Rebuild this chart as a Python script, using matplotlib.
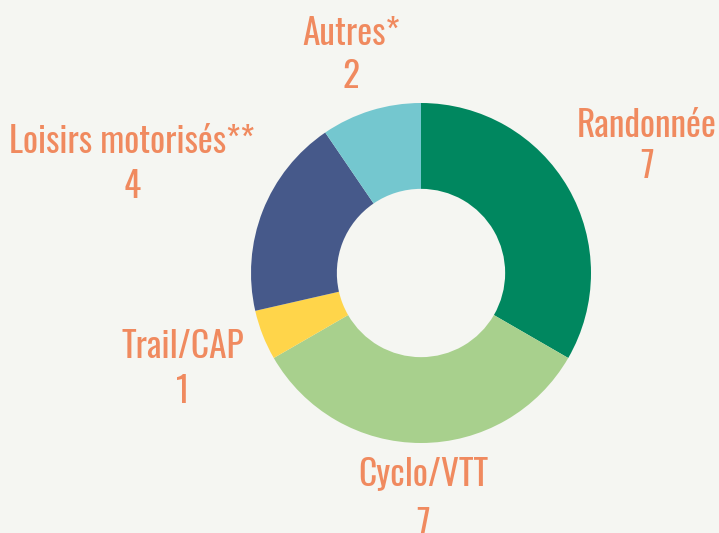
import matplotlib
matplotlib.use("Agg")
import matplotlib.pyplot as plt
from matplotlib import font_manager

categories = ["Randonnée", "Cyclo/VTT", "Trail/CAP", "Loisirs motorisés**", "Autres*"]
values = [7, 7, 1, 4, 2]
colors = ["#00875f", "#a8d08d", "#ffd54a", "#46598a", "#74c7cf"]

names = {f.name for f in font_manager.fontManager.ttflist}
fam = None
for cand in ["Oswald", "Roboto Condensed", "Liberation Sans Narrow", "Open Sans Condensed"]:
    if cand in names:
        fam = cand
        break
stretch = "normal"
if fam is None:
    fam = "DejaVu Sans"
    stretch = "condensed"

W, H = 719, 533
bg = "#f5f6f2"
fig = plt.figure(figsize=(W / 100, H / 100), dpi=100)
fig.patch.set_facecolor(bg)
ax = fig.add_axes([0, 0, 1, 1])
ax.set_facecolor(bg)

cx, cy, r = 421, H - 273, 170
wedges, _ = ax.pie(values, colors=colors, startangle=90, counterclock=False,
                   center=(cx, cy), radius=r,
                   wedgeprops=dict(width=r * 0.505, linewidth=0))
ax.set_xlim(0, W)
ax.set_ylim(0, H)
ax.set_aspect("equal")
ax.axis("off")

# label x centre, baseline of name, baseline of value (pixels from top)
label_pos = [(647, 137, 178), (423, 485, 536), (183, 358, 403), (132, 153, 198), (351, 45, 88)]
txtcol = "#f08a5f"
fs = 25.5
for cat, val, (x, y1, y2) in zip(categories, values, label_pos):
    ax.text(x, H - y1, cat, ha="center", va="baseline", fontsize=fs, color=txtcol,
            family=fam, stretch=stretch)
    ax.text(x, H - y2, str(val), ha="center", va="baseline", fontsize=fs, color=txtcol,
            family=fam, stretch=stretch)

fig.savefig("out.png", dpi=100, facecolor=fig.get_facecolor())
